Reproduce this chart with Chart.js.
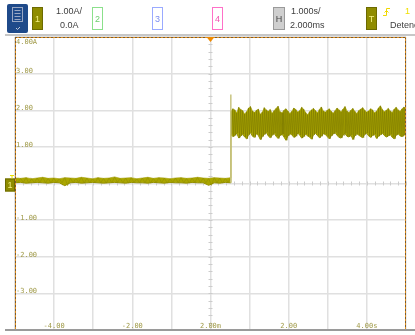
<!DOCTYPE html>
<html>
<head>
<meta charset="utf-8">
<script src="https://cdn.jsdelivr.net/npm/chart.js@4.4.0/dist/chart.umd.min.js"></script>
<style>
  html, body { margin: 0; padding: 0; background: #fff; }
  canvas { display: block; }
</style>
</head>
<body>
<canvas id="scopeChart" width="415" height="335"></canvas>
<script>
// channel 1 current trace (units = divisions / amps)
const stepTime = 0.52;     // where the current steps up, divisions from centre
const spikeValue = 2.43;   // overshoot at the step

// baseline band before the step (top / bottom edge)
const preHi = [0.15,0.14,0.16,0.13,0.15,0.17,0.14,0.15,0.13,0.16,0.15,0.14,0.17,0.15,0.13,0.16,0.14,0.15,0.18,0.14,
               0.15,0.16,0.13,0.15,0.17,0.14,0.16,0.15,0.13,0.15,0.16,0.14,0.15,0.17,0.15,0.14,0.16,0.15,0.14,0.16];
const preLo = [0.02,0.03,0.01,0.02,0.03,0.02,0.01,0.03,0.02,-0.06,0.02,0.03,0.01,0.02,0.03,0.02,0.01,0.02,0.03,0.02,
               0.01,0.03,0.02,0.02,0.01,0.03,0.02,0.01,0.03,0.02,0.02,0.01,0.03,0.02,0.02,-0.05,0.02,0.01,0.03,0.02];

// noisy band after the step
const postHi = [1.97,2.04,2.01,1.93,2.08,2.02,1.99,1.90,1.96,2.06,2.10,1.98,1.94,2.00,2.03,1.89,1.95,2.07,2.01,1.97,
                2.02,1.92,1.99,2.05,2.11,1.96,1.93,2.00,2.04,1.98,1.91,1.97,2.06,2.02,1.95,1.99,2.08,2.03,1.94,1.88,
                1.96,2.01,2.05,1.99,1.93,2.02,2.09,1.98,1.95,2.00,2.04,1.97,1.92,1.99,2.06,2.01,1.96,2.03,2.10,1.98,
                1.94,2.00,2.05,1.97,1.91,1.99,2.03,2.07,2.00,1.95,1.98,2.04,2.01,1.93,1.97,2.06,2.12,2.02,1.96,2.00,
                2.05,1.98,1.94,2.03,2.08,2.01,1.97,2.04,2.09,2.02];
const postLo = [1.34,1.28,1.31,1.38,1.24,1.30,1.35,1.27,1.22,1.33,1.39,1.29,1.26,1.36,1.31,1.20,1.28,1.34,1.40,1.30,
                1.25,1.32,1.37,1.29,1.23,1.31,1.35,1.27,1.18,1.30,1.36,1.33,1.26,1.29,1.38,1.32,1.24,1.28,1.35,1.30,
                1.27,1.21,1.33,1.37,1.31,1.25,1.29,1.36,1.34,1.28,1.22,1.30,1.35,1.39,1.31,1.26,1.24,1.32,1.37,1.29,
                1.27,1.33,1.20,1.30,1.36,1.32,1.28,1.25,1.34,1.38,1.30,1.26,1.31,1.35,1.23,1.29,1.33,1.37,1.31,1.27,
                1.30,1.34,1.26,1.22,1.32,1.36,1.30,1.28,1.33,1.31];

const yTickValues = [4, 3, 2, 1, 0, -1, -2, -3];
const yTickLabels = ['4.00A', '3.00', '2.00', '1.00', '0.00', '-1.00', '-2.00', '-3.00'];
const xTickValues = [-4, -2, 0, 2, 4];
const xTickLabels = ['-4.00', '-2.00', '2.00m', '2.00', '4.00s'];

function envelope(hiArr, loArr, t0, t1) {
  var dt = (t1 - t0) / (hiArr.length - 1);
  var out = { hi: [], lo: [], zig: [] };
  for (var i = 0; i < hiArr.length; i++) {
    var t = t0 + i * dt;
    out.hi.push({ x: t, y: hiArr[i] });
    out.lo.push({ x: t, y: loArr[i] });
    out.zig.push({ x: t, y: hiArr[i] });
    if (i < hiArr.length - 1) out.zig.push({ x: t + dt / 2, y: loArr[i] });
  }
  return out;
}

var pre = envelope(preHi, preLo, -5, stepTime);
var post = envelope(postHi, postLo, stepTime, 5);

var labelColor = '#a09a48';
var monoFont = '7px "DejaVu Sans Mono"';

function box(ctx, x, y, w, h, fill, stroke, text, textColor) {
  ctx.fillStyle = fill;
  ctx.fillRect(x, y, w, h);
  ctx.strokeStyle = stroke;
  ctx.lineWidth = 1;
  ctx.strokeRect(x + 0.5, y + 0.5, w - 1, h - 1);
  ctx.fillStyle = textColor;
  ctx.font = '9px "Liberation Sans"';
  ctx.textAlign = 'center';
  ctx.textBaseline = 'middle';
  ctx.fillText(text, x + w / 2, y + h / 2 + 1);
}

const scopeFrame = {
  id: 'scopeFrame',
  beforeDraw(chart) {
    var ctx = chart.ctx;
    ctx.save();
    ctx.fillStyle = '#fff';
    ctx.fillRect(0, 0, chart.width, chart.height);
    ctx.restore();
  },
  beforeDatasetsDraw(chart) {
    var ctx = chart.ctx, a = chart.chartArea;
    var xs = chart.scales.x, ys = chart.scales.y;
    var cx = xs.getPixelForValue(0), cy = ys.getPixelForValue(0);
    ctx.save();
    // minor ticks on the centre axes
    ctx.strokeStyle = '#cccccc';
    ctx.lineWidth = 1;
    ctx.beginPath();
    for (var v = -4; v <= 4.001; v += 0.2) {
      var py = Math.round(ys.getPixelForValue(v)) + 0.5;
      ctx.moveTo(cx - 2, py); ctx.lineTo(cx + 2, py);
    }
    for (var u = -5; u <= 5.001; u += 0.2) {
      var px = Math.round(xs.getPixelForValue(u)) + 0.5;
      ctx.moveTo(px, cy - 2); ctx.lineTo(px, cy + 2);
    }
    ctx.stroke();
    // scale labels inside the graticule
    ctx.font = monoFont;
    ctx.fillStyle = labelColor;
    ctx.textAlign = 'left';
    ctx.textBaseline = 'middle';
    yTickValues.forEach(function (v, i) {
      var py = ys.getPixelForValue(v) - 2;
      if (py < a.top + 5) py = a.top + 5;
      ctx.fillText(yTickLabels[i], a.left + 1, py);
    });
    ctx.textAlign = 'center';
    xTickValues.forEach(function (v, i) {
      ctx.fillText(xTickLabels[i], xs.getPixelForValue(v), a.bottom - 4);
    });
    ctx.restore();
  },
  afterDatasetsDraw(chart) {
    var ctx = chart.ctx, a = chart.chartArea;
    var xs = chart.scales.x, ys = chart.scales.y;
    ctx.save();
    // dashed frame
    function dashed(x1, y1, x2, y2) {
      ctx.setLineDash([]);
      ctx.strokeStyle = '#e09020';
      ctx.lineWidth = 1;
      ctx.beginPath(); ctx.moveTo(x1, y1); ctx.lineTo(x2, y2); ctx.stroke();
      ctx.setLineDash([2, 2]);
      ctx.strokeStyle = '#7a5a30';
      ctx.beginPath(); ctx.moveTo(x1, y1); ctx.lineTo(x2, y2); ctx.stroke();
    }
    dashed(a.left + 0.5, a.top, a.left + 0.5, a.bottom);
    dashed(a.right - 0.5, a.top, a.right - 0.5, a.bottom);
    dashed(a.left, a.top + 0.5, a.right, a.top + 0.5);
    ctx.setLineDash([]);
    // bottom rule
    ctx.strokeStyle = '#9a9a9a';
    ctx.lineWidth = 2;
    ctx.beginPath(); ctx.moveTo(5, a.bottom); ctx.lineTo(chart.width, a.bottom); ctx.stroke();
    // trigger position marker
    var tx = xs.getPixelForValue(0);
    ctx.fillStyle = '#f08a00';
    ctx.beginPath();
    ctx.moveTo(tx - 4, a.top); ctx.lineTo(tx + 4, a.top); ctx.lineTo(tx, a.top + 5); ctx.closePath();
    ctx.fill();
    // channel 1 ground marker
    var gy = ys.getPixelForValue(0);
    box(ctx, 5, gy - 5, 10, 13, '#8f8c00', '#6c6a00', '1', '#f4f080');
    ctx.strokeStyle = '#e8e000';
    ctx.lineWidth = 1;
    ctx.beginPath();
    ctx.moveTo(10, gy - 8); ctx.lineTo(14, gy - 8);
    ctx.moveTo(12, gy - 8); ctx.lineTo(12, gy - 5);
    ctx.stroke();
    ctx.restore();
  },
  afterDraw(chart) {
    var ctx = chart.ctx;
    ctx.save();
    // header bar
    ctx.fillStyle = '#1f4a8a';
    ctx.beginPath();
    ctx.roundRect(7, 4, 21, 29, 2);
    ctx.fill();
    ctx.strokeStyle = '#9aa8c4';
    ctx.lineWidth = 1;
    ctx.strokeRect(12.5, 7.5, 10, 14);
    ctx.beginPath();
    for (var k = 0; k < 4; k++) { ctx.moveTo(14.5, 10.5 + k * 3); ctx.lineTo(20.5, 10.5 + k * 3); }
    ctx.stroke();
    ctx.strokeStyle = '#c0c8d8';
    ctx.beginPath(); ctx.moveTo(16, 28); ctx.lineTo(17.5, 29.5); ctx.lineTo(20, 27); ctx.stroke();

    box(ctx, 32, 7, 11, 23, '#8f8c00', '#6c6a00', '1', '#f4f080');
    box(ctx, 92, 7, 11, 23, '#fff', '#8be08b', '2', '#6ccf6c');
    box(ctx, 152, 7, 11, 23, '#fff', '#9aaaff', '3', '#7b8cf0');
    box(ctx, 212, 7, 11, 23, '#fff', '#ff70c8', '4', '#f050b0');
    box(ctx, 273, 7, 12, 23, '#cfcfcf', '#9a9a9a', 'H', '#444');
    box(ctx, 366, 7, 11, 23, '#8f8c00', '#6c6a00', 'T', '#f4f080');

    ctx.fillStyle = '#404040';
    ctx.font = '9px "Liberation Sans"';
    ctx.textAlign = 'left';
    ctx.textBaseline = 'middle';
    ctx.fillText('1.00A/', 56, 12);
    ctx.fillText('0.0A', 60, 26);
    ctx.fillText('1.000s/', 291, 12);
    ctx.fillText('2.000ms', 290, 26);
    ctx.fillText('Detene', 390, 26);
    ctx.fillStyle = '#f0e000';
    ctx.fillText('1', 405, 12);
    // trigger edge glyph
    ctx.strokeStyle = '#f0d800';
    ctx.beginPath();
    ctx.moveTo(383, 15.5); ctx.lineTo(386.5, 15.5); ctx.lineTo(386.5, 8.5); ctx.lineTo(390, 8.5);
    ctx.moveTo(384.5, 12.5); ctx.lineTo(386.5, 10.5); ctx.lineTo(388.5, 12.5);
    ctx.stroke();
    // separator
    ctx.strokeStyle = '#b4b4b4';
    ctx.lineWidth = 1.5;
    ctx.beginPath(); ctx.moveTo(5, 35); ctx.lineTo(chart.width, 35); ctx.stroke();
    ctx.restore();
  }
};

var ctx = document.getElementById('scopeChart').getContext('2d');
var scopeChart = new Chart(ctx, {
  type: 'line',
  data: {
    datasets: [
      {
        label: 'env hi',
        data: pre.hi.concat(post.hi),
        borderColor: '#c4c068',
        borderWidth: 1,
        fill: false,
        order: 4
      },
      {
        label: 'env lo',
        data: pre.lo.concat(post.lo),
        borderColor: '#949000',
        borderWidth: 1,
        backgroundColor: '#aaa600',
        fill: '-1',
        order: 3
      },
      {
        label: 'trace pre',
        data: pre.zig,
        borderColor: '#8e8a00',
        borderWidth: 0.5,
        fill: false,
        order: 2
      },
      {
        label: 'trace post',
        data: post.zig,
        borderColor: '#7c7800',
        borderWidth: 0.6,
        fill: false,
        order: 1
      },
      {
        label: 'step',
        data: [{ x: stepTime, y: preLo[preLo.length - 1] }, { x: stepTime, y: spikeValue }],
        borderColor: '#c8c480',
        borderWidth: 1.5,
        fill: false,
        order: 0
      }
    ]
  },
  options: {
    responsive: false,
    animation: false,
    layout: { padding: { left: 15, top: 37, right: 9, bottom: 5 } },
    elements: { point: { radius: 0 }, line: { tension: 0 } },
    plugins: { legend: { display: false }, tooltip: { enabled: false } },
    scales: {
      x: {
        type: 'linear', min: -5, max: 5,
        ticks: { display: false, stepSize: 1, padding: 0 },
        grid: { color: '#e0e0e0', lineWidth: 1.5, drawTicks: false },
        border: { display: false }
      },
      y: {
        min: -4, max: 4,
        ticks: { display: false, stepSize: 1, padding: 0 },
        grid: { color: '#e0e0e0', lineWidth: 1.5, drawTicks: false },
        border: { display: false }
      }
    }
  },
  plugins: [scopeFrame]
});
</script>
</body>
</html>
